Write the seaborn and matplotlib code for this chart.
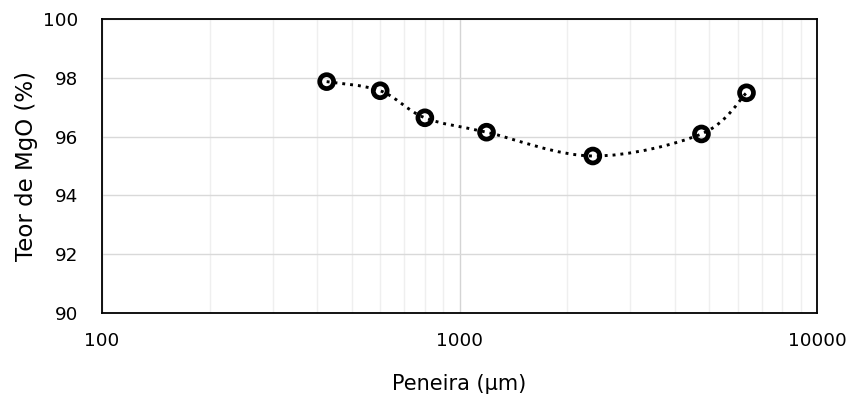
import numpy as np
import pandas as pd
import matplotlib
matplotlib.use("Agg")
import matplotlib.pyplot as plt
from matplotlib.path import Path
from matplotlib.patches import PathPatch
from matplotlib.ticker import LogLocator, NullFormatter
import seaborn as sns

# data
peneira = [425, 600, 800, 1190, 2360, 4750, 6350]
teor_mgo = [97.87, 97.56, 96.64, 96.15, 95.34, 96.09, 97.49]
x_ticks = [100, 1000, 10000]
x_tick_labels = ["100", "1000", "10000"]
y_ticks = [90, 92, 94, 96, 98, 100]

sns.set_theme(style="white")
plt.rcParams['font.family'] = ['DejaVu Sans']

fig = plt.figure(figsize=(8.5, 3.96), dpi=100)
ax = fig.add_axes([0.12, 0.2096, 0.8412, 0.7424])

df = pd.DataFrame({"x": peneira, "y": teor_mgo})

ax.set_xscale("log")
ax.set_xlim(100, 10000)
ax.set_ylim(90, 100)

# gridlines
ax.xaxis.set_minor_locator(LogLocator(base=10, subs=np.arange(2, 10)))
ax.xaxis.set_minor_formatter(NullFormatter())
ax.set_xticks(x_ticks)
ax.set_xticklabels(x_tick_labels)
ax.set_yticks(y_ticks)
ax.grid(which="minor", axis="x", color="#efefef", linewidth=1.0)
ax.grid(which="major", axis="x", color="#d4d4d4", linewidth=1.0)
ax.grid(which="major", axis="y", color="#d9d9d9", linewidth=1.0)
ax.set_axisbelow(True)

# smoothed line (Excel-like Catmull-Rom Bezier in log-x space)
lx = np.log10(np.array(peneira, dtype=float))
ly = np.array(teor_mgo, dtype=float)
P = np.column_stack([lx, ly])
n = len(P)
verts = [P[0]]
codes = [Path.MOVETO]
for i in range(n - 1):
    p0 = P[i - 1] if i > 0 else P[i]
    p1 = P[i]
    p2 = P[i + 1]
    p3 = P[i + 2] if i + 2 < n else P[i + 1]
    c1 = p1 + (p2 - p0) / 6.0
    c2 = p2 - (p3 - p1) / 6.0
    verts += [c1, c2, p2]
    codes += [Path.CURVE4] * 3
verts = np.array(verts)
verts[:, 0] = 10 ** verts[:, 0]
patch = PathPatch(Path(verts, codes), facecolor="none", edgecolor="black",
                  linewidth=2.1, linestyle=(0, (1, 1.7)), capstyle="butt", zorder=3)
ax.add_patch(patch)

sns.scatterplot(data=df, x="x", y="y", ax=ax, marker="o", s=100,
                facecolors="none", edgecolors="black", linewidths=3.4, zorder=4,
                legend=False)

for s in ax.spines.values():
    s.set_visible(True)
    s.set_color("black")
    s.set_linewidth(1.3)

ax.tick_params(axis="both", which="both", length=0, labelsize=13.2, colors="black")
ax.tick_params(axis="y", pad=17)
ax.tick_params(axis="x", pad=14)
ax.set_xlabel("Peneira (µm)", fontsize=15, labelpad=17, color="black")
ax.set_ylabel("Teor de MgO (%)", fontsize=16.5, labelpad=4, color="black")

fig.savefig("out.png", dpi=100)
